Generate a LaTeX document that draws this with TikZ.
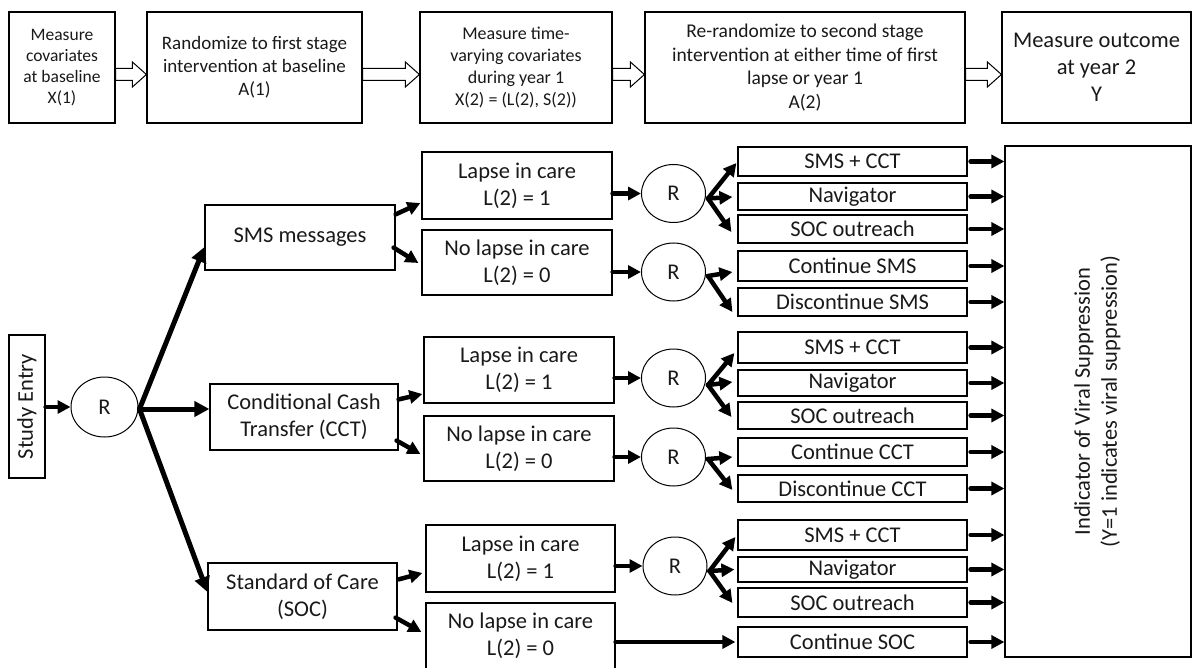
\documentclass[tikz,border=0pt]{standalone}
\usepackage{fontspec}
\setmainfont{Carlito}
\usetikzlibrary{arrows.meta,calc,shapes.geometric}
\newcommand{\hollowarrow}[2]{%
  \draw[hollow] ($(#1.east)+(0,1)$) -- ($(#2.west)+(-14,1)$) -- ($(#2.west)+(-14,-5.5)$)
    -- ($(#2.west)+(0,7)$) -- ($(#2.west)+(-14,19.5)$) -- ($(#2.west)+(-14,13)$)
    -- ($(#1.east)+(0,13)$) -- cycle;}
\begin{document}
\begin{tikzpicture}[x=1pt,y=-1pt,
  box/.style={draw, line width=1.2pt, inner sep=0pt, align=center, text=black!90,
    font=\fontsize{22.5}{27}\selectfont},
  rnode/.style={draw, ellipse, line width=1pt, inner sep=0pt, minimum width=64pt,
    minimum height=58pt, text=black!90, font=\fontsize{22.5}{27}\selectfont},
  tbox/.style={box, minimum width=229pt},
  hollow/.style={draw, fill=white, line width=1pt},
  big/.style={line width=5pt, -{Triangle[length=15pt,width=15pt]}, line cap=round},
  mid/.style={line width=4.5pt, -{Triangle[length=13pt,width=13pt]}, line cap=round},
]
\useasboundingbox (0,0) rectangle (1198,668);

% ---- top row ----
\node[box, minimum width=106pt, minimum height=111pt, font=\fontsize{17.5}{21}\selectfont] (t1) at (62,67.5) {Measure\\covariates\\at baseline\\X(1)};
\node[box, minimum width=215pt, minimum height=111pt, font=\fontsize{19}{23}\selectfont] (t2) at (254.5,67.5) {Randomize to first stage\\intervention at baseline\\A(1)};
\node[box, minimum width=192pt, minimum height=111pt, font=\fontsize{18}{22}\selectfont] (t3) at (516,67.5) {Measure time-\\varying covariates\\during year 1\\X(2) = (L(2), S(2))};
\node[box, minimum width=320pt, minimum height=111pt, font=\fontsize{19.5}{23.5}\selectfont] (t4) at (805,67.5) {Re-randomize to second stage\\intervention at either time of first\\lapse or year 1\\A(2)};
\node[box, minimum width=189pt, minimum height=111pt] (t5) at (1096.5,67.5) {Measure outcome\\at year 2\\Y};
\hollowarrow{t1}{t2}
\hollowarrow{t2}{t3}
\hollowarrow{t3}{t4}
\hollowarrow{t4}{t5}

% ---- tree ----
\node[box, minimum width=36pt, minimum height=143pt] (entry) at (27,406.5) {\rotatebox{90}{Study Entry}};
\node[rnode, minimum width=67pt, minimum height=60pt] (r0) at (104.5,407) {R};

\node[box, minimum width=190pt, minimum height=65pt] (sms) at (300,237.5) {SMS messages};
\node[box, minimum width=188pt, minimum height=66pt] (cct) at (304,417) {Conditional Cash\\Transfer (CCT)};
\node[box, minimum width=189pt, minimum height=67pt] (soc) at (302.5,596.5) {Standard of Care\\(SOC)};

\node[box, minimum width=190pt, minimum height=67pt] (l1) at (517,185.5) {Lapse in care\\L(2) = 1};
\node[box, minimum width=190pt, minimum height=65pt] (n1) at (517,262.5) {No lapse in care\\L(2) = 0};
\node[box, minimum width=190pt, minimum height=66pt] (l2) at (519,370) {Lapse in care\\L(2) = 1};
\node[box, minimum width=190pt, minimum height=65pt] (n2) at (519,448.5) {No lapse in care\\L(2) = 0};
\node[box, minimum width=189pt, minimum height=67pt] (l3) at (520.5,558.5) {Lapse in care\\L(2) = 1};
\node[box, minimum width=189pt, minimum height=66pt] (n3) at (520.5,636) {No lapse in care\\L(2) = 0};

\node[rnode] (r1) at (673.5,193.5) {R};
\node[rnode] (r2) at (673.5,272) {R};
\node[rnode] (r3) at (673.5,378) {R};
\node[rnode] (r4) at (673.5,457) {R};
\node[rnode] (r5) at (675,566) {R};

\node[tbox, minimum height=29pt] (a1) at (852.5,161.5) {SMS + CCT};
\node[tbox, minimum height=27pt] (a2) at (852.5,196.5) {Navigator};
\node[tbox, minimum height=28pt] (a3) at (852.5,229) {SOC outreach};
\node[tbox, minimum height=30pt] (a4) at (852.5,266) {Continue SMS};
\node[tbox, minimum height=28pt] (a5) at (852.5,302) {Discontinue SMS};

\node[tbox, minimum height=31pt] (b1) at (852.5,347.5) {SMS + CCT};
\node[tbox, minimum height=26pt] (b2) at (852.5,383) {Navigator};
\node[tbox, minimum height=27pt] (b3) at (852.5,415.5) {SOC outreach};
\node[tbox, minimum height=28pt] (b4) at (852.5,452) {Continue CCT};
\node[tbox, minimum height=27pt] (b5) at (852.5,488.5) {Discontinue CCT};

\node[tbox, minimum height=30pt] (c1) at (852.5,535) {SMS + CCT};
\node[tbox, minimum height=25pt] (c2) at (852.5,569.5) {Navigator};
\node[tbox, minimum height=29pt] (c3) at (852.5,602.5) {SOC outreach};
\node[tbox, minimum height=30pt] (c4) at (852.5,642) {Continue SOC};

\node[box, minimum width=186pt, minimum height=511pt] (out) at (1098,401.5)
  {\rotatebox{90}{\begin{tabular}{@{}c@{}}Indicator of Viral Suppression\\(Y=1 indicates viral suppression)\end{tabular}}};

% ---- connectors ----
\draw[mid] (entry.east |- r0.west) -- (r0.west);
\coordinate (o0) at ($(r0.east)+(1,2)$);
\draw[big] (o0) -- ($(sms.west)+(0,9.5)$);
\draw[big] (o0) -- (cct.west |- o0);
\draw[big] (o0) -- ($(soc.west)+(0,-4.5)$);

\draw[mid] ($(sms.north east)+(0,10)$) -- ($(l1.west)+(-1,17.5)$);
\draw[mid] ($(sms.south east)+(-2,-23)$) -- ($(n1.west)+(-3,0.5)$);
\draw[mid] ($(cct.north east)+(0,16)$) -- ($(l2.west)+(-1,24)$);
\draw[mid] ($(cct.south east)+(-2,-10)$) -- ($(n2.west)+(-3,5.5)$);
\draw[mid] ($(soc.north east)+(1,17)$) -- ($(l3.west)+(-3,14.5)$);
\draw[mid] ($(soc.south east)+(-2,-13)$) -- ($(n3.west)+(-4,-4)$);

\draw[mid] (l1.east |- r1.west) -- (r1.west);
\draw[mid] (n1.east |- r2.west) -- (r2.west);
\draw[mid] (l2.east |- r3.west) -- (r3.west);
\draw[mid] (n2.east |- r4.west) -- (r4.west);
\draw[mid] (l3.east |- r5.west) -- (r5.west);
\draw[mid] (n3.east |- c4.west) -- ($(c4.west)+(-2,0)$);

\coordinate (o1) at ($(r1.east)+(2,5)$);
\draw[mid] (o1) -- ($(a1.west)+(-1,1.5)$);
\draw[mid] (o1) -- ($(a2.west)+(-5,0.5)$);
\draw[mid] (o1) -- ($(a3.west)+(-6,3)$);
\coordinate (o2) at ($(r2.east)+(2,4)$);
\draw[mid] (o2) -- ($(a4.west)+(-5,6)$);
\draw[mid] (o2) -- ($(a5.west)+(-5,10)$);
\coordinate (o3) at ($(r3.east)+(2,7)$);
\draw[mid] (o3) -- ($(b1.west)+(-3,5.5)$);
\draw[mid] (o3) -- ($(b2.west)+(-5,-1)$);
\draw[mid] (o3) -- ($(b3.west)+(-6,1.5)$);
\coordinate (o4) at ($(r4.east)+(2,2)$);
\draw[mid] (o4) -- ($(b4.west)+(-5,5)$);
\draw[mid] (o4) -- ($(b5.west)+(-5,1.5)$);
\coordinate (o5) at ($(r5.east)+(2,5)$);
\draw[mid] (o5) -- ($(c1.west)+(-2,2)$);
\draw[mid] (o5) -- ($(c2.west)+(-3,0)$);
\draw[mid] (o5) -- ($(c3.west)+(-5,0.5)$);

\foreach \t in {a1,a2,a3,a4,a5,b1,b2,b3,b4,b5,c1,c2,c3,c4}
  \draw[mid] ($(\t.east)+(3,0)$) -- (\t.east -| out.west);
\end{tikzpicture}
\end{document}
